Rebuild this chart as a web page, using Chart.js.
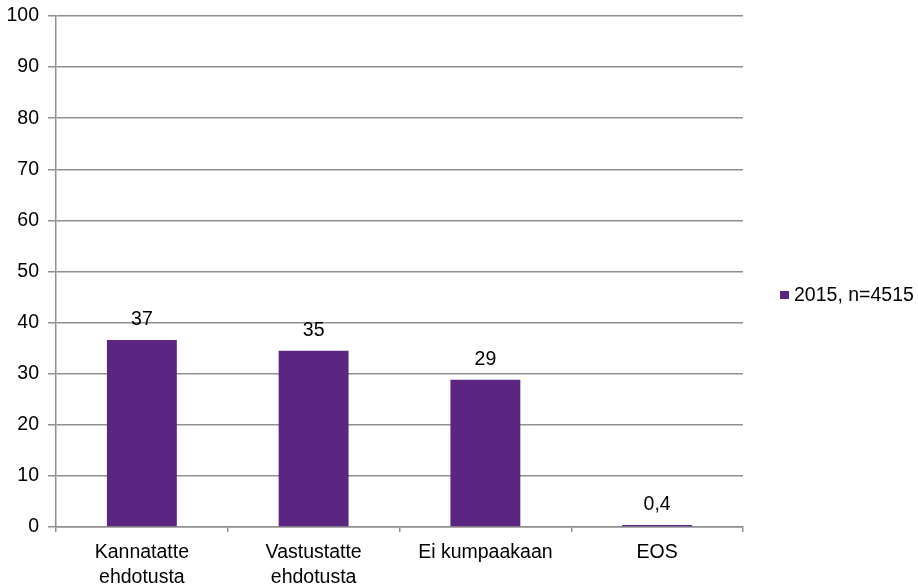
<!DOCTYPE html>
<html>
<head>
<meta charset="utf-8">
<script src="https://cdn.jsdelivr.net/npm/chart.js@4"></script>
<style>
  html, body { margin: 0; padding: 0; background: #fff; }
  #wrap { width: 918px; height: 585px; }
</style>
</head>
<body>
<div id="wrap"><canvas id="myChart" width="918" height="585"></canvas></div>
<script>
// data
let categories = [["Kannatatte", "ehdotusta"], ["Vastustatte", "ehdotusta"], "Ei kumpaakaan", "EOS"];
let seriesName = "2015, n=4515";
let values = [36.6, 34.5, 28.8, 0.4];
let yTicks = [0, 10, 20, 30, 40, 50, 60, 70, 80, 90, 100];

const barColor = "#5B2682";
const gridColor = "#8f8f8f";
const fontFamily = "'Liberation Sans', Arial, sans-serif";
const fontSize = 19.5;

function fmt(v) {
  if (v < 1) return v.toFixed(1).replace(".", ",");
  return String(Math.round(v));
}

// value labels above the bars
const valueLabels = {
  id: "valueLabels",
  afterDatasetsDraw(chart) {
    const ctx = chart.ctx;
    const meta = chart.getDatasetMeta(0);
    ctx.save();
    ctx.font = fontSize + "px " + fontFamily;
    ctx.fillStyle = "#000";
    ctx.textAlign = "center";
    ctx.textBaseline = "alphabetic";
    meta.data.forEach((bar, i) => {
      ctx.fillText(fmt(values[i]), bar.x, bar.y - 15);
    });
    ctx.restore();
  }
};

// legend on the right
const sideLegend = {
  id: "sideLegend",
  afterDraw(chart) {
    const ctx = chart.ctx;
    const x = chart.chartArea.right + 37;
    const y = 295;
    ctx.save();
    ctx.fillStyle = barColor;
    ctx.fillRect(x, y - 4, 9, 8);
    ctx.font = fontSize + "px " + fontFamily;
    ctx.fillStyle = "#000";
    ctx.textAlign = "left";
    ctx.textBaseline = "middle";
    ctx.fillText(seriesName, x + 14, y + 1);
    ctx.restore();
  }
};

const ctx = document.getElementById("myChart").getContext("2d");
let myChart = new Chart(ctx, {
  type: "bar",
  data: {
    labels: categories,
    datasets: [{
      label: seriesName,
      data: values,
      backgroundColor: barColor,
      categoryPercentage: 1,
      barPercentage: 0.407
    }]
  },
  options: {
    responsive: false,
    animation: false,
    layout: { padding: { left: 0, right: 175, top: 16, bottom: 0 } },
    plugins: {
      legend: { display: false },
      tooltip: { enabled: false }
    },
    scales: {
      x: {
        offset: true,
        afterFit(scale) {
          scale.height = 58;
        },
        grid: {
          offset: true,
          drawOnChartArea: false,
          drawTicks: true,
          tickLength: 5,
          color: gridColor,
          lineWidth: 1.5
        },
        border: { color: gridColor, width: 1.5 },
        ticks: {
          color: "#000",
          padding: 8,
          maxRotation: 0,
          font: { family: fontFamily, size: fontSize, lineHeight: 1.3 }
        }
      },
      y: {
        min: 0,
        max: 100,
        afterBuildTicks(axis) {
          axis.ticks = yTicks.map(v => ({ value: v }));
        },
        afterFit(scale) {
          scale.width = 56;
          scale.paddingTop = 0;
          scale.paddingBottom = 0;
        },
        grid: {
          color: gridColor,
          lineWidth: 1.5,
          tickLength: 8
        },
        border: { color: gridColor, width: 1.5 },
        ticks: {
          color: "#000",
          padding: 9,
          font: { family: fontFamily, size: fontSize, lineHeight: 1 }
        }
      }
    }
  },
  plugins: [valueLabels, sideLegend]
});
</script>
</body>
</html>
